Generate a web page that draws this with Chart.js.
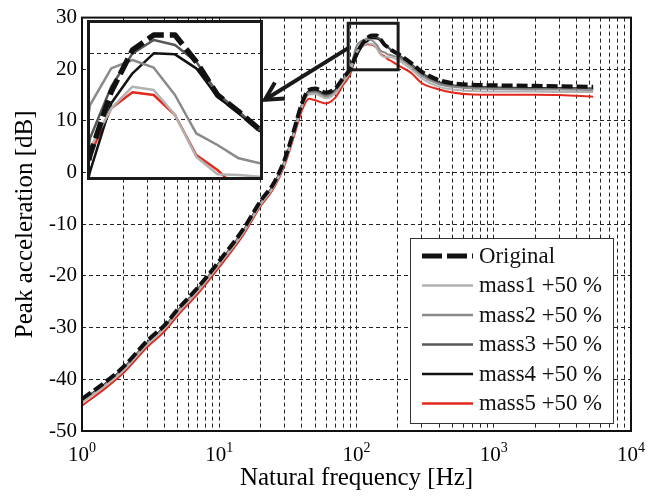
<!DOCTYPE html>
<html>
<head>
<meta charset="utf-8">
<script src="https://cdn.jsdelivr.net/npm/chart.js@4.4.1/dist/chart.umd.min.js"></script>
<style>
  html, body { margin: 0; padding: 0; background: #fff; }
  #wrap { position: relative; width: 660px; height: 500px; }
  #inset { position: absolute; left: 87px; top: 20px; width: 170px; height: 154px; border: 3px solid #1a1a1a; background: #fff; }
  #inset canvas { display: block; }
</style>
</head>
<body>
<div id="wrap">
  <canvas id="main" width="660" height="500"></canvas>
  <div id="inset"><canvas id="zoom" width="170" height="154"></canvas></div>
</div>
<script>
'use strict';
// frequency samples [Hz]
const freqs = [1, 1.5, 2, 3, 4, 5, 7, 10, 15, 20, 25, 30, 35, 40, 45, 50, 60, 70, 80, 90,
  100, 110, 120, 130, 140, 150, 160, 170, 180, 200, 250, 300, 400, 500, 700, 1000, 2000, 3000, 5300];

// peak acceleration [dB]
const original = [-43.8, -40.4, -37.6, -32.5, -29.5, -26.4, -22.2, -17.1, -10.9, -5.5,
  -2.0, 2.6, 8.2, 13.4, 16.0, 16.3, 15.5, 16.3, 18.3, 20.1,
  22.95, 24.85, 26.1, 26.55, 26.55, 25.75, 24.75, 24.25, 23.7, 23.0,
  21.2, 19.5, 17.9, 17.3, 17.0, 16.9, 16.8, 16.7, 16.6];
const mass1 = [-44.5, -41.1, -38.3, -33.2, -30.2, -27.1, -22.9, -17.8, -11.6, -6.2,
  -2.7, 1.9, 7.5, 12.7, 15.1, 15.2, 14.4, 15.3, 17.5, 19.6,
  23.15, 24.35, 25.0, 24.9, 24.15, 22.9, 22.37, 22.35, 22.3, 21.8,
  20.0, 18.2, 16.6, 16.1, 15.8, 15.7, 15.7, 15.6, 15.6];
const mass2 = [-44.3, -40.9, -38.1, -33.0, -30.0, -26.9, -22.7, -17.6, -11.4, -6.0,
  -2.5, 2.1, 7.7, 12.9, 15.4, 15.5, 14.7, 15.6, 17.9, 20.2,
  24.45, 25.55, 25.8, 25.57, 24.75, 23.6, 23.25, 22.85, 22.7, 22.3,
  20.5, 18.7, 17.1, 16.6, 16.3, 16.2, 16.1, 16.1, 16.0];
const mass3 = [-44.2, -40.8, -38.0, -32.9, -29.9, -26.8, -22.6, -17.5, -11.3, -5.9,
  -2.4, 2.2, 7.8, 13.0, 15.6, 15.8, 15.0, 15.8, 17.9, 19.8,
  23.45, 25.0, 26.0, 26.4, 26.25, 25.75, 24.8, 24.25, 23.7, 22.9,
  20.9, 19.1, 17.4, 16.8, 16.5, 16.4, 16.3, 16.3, 16.2];
const mass4 = [-44.1, -40.7, -37.9, -32.8, -29.8, -26.7, -22.5, -17.4, -11.2, -5.8,
  -2.3, 2.3, 7.9, 13.1, 15.8, 16.0, 15.2, 16.0, 18.0, 19.7,
  22.45, 24.5, 25.4, 26.0, 25.97, 25.55, 24.7, 24.2, 23.65, 22.8,
  21.0, 19.2, 17.5, 16.9, 16.6, 16.5, 16.4, 16.4, 16.3];
const mass5 = [-45.1, -41.6, -38.8, -33.7, -30.7, -27.6, -23.4, -18.3, -12.0, -6.5,
  -3.0, 1.5, 7.0, 12.0, 14.3, 14.0, 13.4, 14.5, 17.0, 19.0,
  22.95, 24.35, 24.83, 24.75, 24.15, 22.95, 22.5, 21.9, 21.6, 20.8,
  19.3, 17.3, 16.1, 15.5, 15.1, 15.05, 15.05, 15.0, 14.7];

const seriesNames = ['Original', 'mass1 +50 %', 'mass2 +50 %', 'mass3 +50 %', 'mass4 +50 %', 'mass5 +50 %'];
const seriesColors = ['#111111', '#b2b2b2', '#8a8a8a', '#585858', '#111111', '#e2291d'];

const yTicks = [-50, -40, -30, -20, -10, 0, 10, 20, 30];
const xDecades = [1, 10, 100, 1000, 10000];
const xExponents = ['0', '1', '2', '3', '4'];

// zoomed region (data coords) and inset limits
const zoomX = [87, 201];
const zoomY = [19.9, 28.9];
const insetX = [100, 180];
const insetY = [22.29, 26.91];
const insetGrid = [24, 26];
const arrowFrom = [87, 24.1];
const arrowTo = [21.5, 14.1];

const serif = "'Liberation Serif', 'Times New Roman', serif";
Chart.defaults.font.family = serif;
Chart.defaults.color = '#000';

function points(values) {
  return freqs.map((f, i) => ({x: f, y: values[i]}));
}

function makeDatasets(solidWidth, dashWidth, dash, smooth) {
  const all = [original, mass1, mass2, mass3, mass4, mass5];
  return all.map((vals, i) => ({
    label: seriesNames[i],
    data: points(vals),
    borderColor: seriesColors[i],
    borderWidth: i === 0 ? dashWidth : solidWidth,
    borderDash: i === 0 ? dash : [],
    borderJoinStyle: 'round',
    pointRadius: 0,
    fill: false,
    tension: 0,
    cubicInterpolationMode: smooth ? 'monotone' : 'default'
  }));
}

// minor + major grid for the log axis
const xGrid = [];
for (let d = 0; d < xDecades.length - 1; d++) {
  for (let m = 1; m < 10; m++) xGrid.push(m * xDecades[d]);
}
xGrid.push(xDecades[xDecades.length - 1]);

const framePlugin = {
  id: 'frame',
  afterDraw(chart) {
    const ctx = chart.ctx;
    const a = chart.chartArea;
    const xs = chart.scales.x;
    const ys = chart.scales.y;
    ctx.save();

    // axes box
    ctx.strokeStyle = '#111';
    ctx.lineWidth = 2;
    ctx.strokeRect(a.left, a.top, a.right - a.left, a.bottom - a.top);

    // x tick labels 10^n
    ctx.fillStyle = '#000';
    ctx.textBaseline = 'alphabetic';
    ctx.textAlign = 'left';
    for (let i = 0; i < xDecades.length; i++) {
      const x = xs.getPixelForValue(xDecades[i]);
      ctx.font = '21px ' + serif;
      const w1 = ctx.measureText('10').width;
      ctx.font = '14px ' + serif;
      const w2 = ctx.measureText(xExponents[i]).width;
      const start = x - (w1 + w2) / 2;
      ctx.font = '21px ' + serif;
      ctx.fillText('10', start, 461);
      ctx.font = '14px ' + serif;
      ctx.fillText(xExponents[i], start + w1, 452);
    }

    // zoom box
    const bx0 = xs.getPixelForValue(zoomX[0]);
    const bx1 = xs.getPixelForValue(zoomX[1]);
    const by0 = ys.getPixelForValue(zoomY[1]);
    const by1 = ys.getPixelForValue(zoomY[0]);
    ctx.lineWidth = 3;
    ctx.strokeStyle = '#1a1a1a';
    ctx.strokeRect(bx0, by0, bx1 - bx0, by1 - by0);

    // arrow to the inset
    const ax0 = xs.getPixelForValue(arrowFrom[0]);
    const ay0 = ys.getPixelForValue(arrowFrom[1]);
    const ax1 = xs.getPixelForValue(arrowTo[0]);
    const ay1 = ys.getPixelForValue(arrowTo[1]);
    ctx.lineWidth = 4;
    ctx.lineCap = 'butt';
    ctx.beginPath();
    ctx.moveTo(ax0, ay0);
    ctx.lineTo(ax1, ay1);
    ctx.stroke();
    const ang = Math.atan2(ay0 - ay1, ax0 - ax1);
    const len = 20;
    const spread = 28 * Math.PI / 180;
    ctx.lineJoin = 'miter';
    ctx.beginPath();
    ctx.moveTo(ax1 + len * Math.cos(ang - spread), ay1 + len * Math.sin(ang - spread));
    ctx.lineTo(ax1, ay1);
    ctx.lineTo(ax1 + len * Math.cos(ang + spread), ay1 + len * Math.sin(ang + spread));
    ctx.stroke();

    // legend
    const lx = 410.5, ly = 238.5, lw = 203, lh = 185;
    ctx.fillStyle = '#fff';
    ctx.fillRect(lx, ly, lw, lh);
    ctx.lineWidth = 1;
    ctx.strokeStyle = '#333';
    ctx.strokeRect(lx, ly, lw, lh);
    ctx.font = '22.8px ' + serif;
    ctx.textBaseline = 'middle';
    chart.data.datasets.forEach((ds, i) => {
      const y = 256 + i * 29.5;
      ctx.strokeStyle = ds.borderColor;
      ctx.lineWidth = i === 0 ? 5 : 2.5;
      ctx.setLineDash(i === 0 ? [20, 5] : []);
      ctx.beginPath();
      ctx.moveTo(422, y);
      ctx.lineTo(473, y);
      ctx.stroke();
      ctx.setLineDash([]);
      ctx.fillStyle = '#111';
      ctx.fillText(ds.label, 479, y + 1);
    });
    ctx.restore();
  }
};

new Chart(document.getElementById('main'), {
  type: 'line',
  data: {datasets: makeDatasets(2, 4, [11, 4], true)},
  plugins: [framePlugin],
  options: {
    responsive: false,
    animation: false,
    layout: {padding: {left: 0, top: 16, right: 29, bottom: 0}},
    plugins: {legend: {display: false}, tooltip: {enabled: false}},
    scales: {
      x: {
        type: 'logarithmic',
        min: 1,
        max: 10000,
        ticks: {display: false},
        grid: {color: '#222', lineWidth: 1, drawTicks: false},
        border: {display: false, dash: [4, 3]},
        afterBuildTicks: (s) => { s.ticks = xGrid.map(v => ({value: v})); },
        afterFit: (s) => { s.height = 69; },
        title: {display: true, text: 'Natural frequency [Hz]', font: {size: 25}, padding: {top: 0, bottom: 7}}
      },
      y: {
        min: -50,
        max: 30,
        ticks: {font: {size: 21}, padding: 5, color: '#000'},
        grid: {color: '#222', lineWidth: 1, drawTicks: false},
        border: {display: false, dash: [4, 3]},
        afterBuildTicks: (s) => { s.ticks = yTicks.map(v => ({value: v})); },
        afterFit: (s) => { s.width = 82; },
        title: {display: true, text: 'Peak acceleration [dB]', font: {size: 25}, padding: {top: 10, bottom: 0}}
      }
    }
  }
});

new Chart(document.getElementById('zoom'), {
  type: 'line',
  data: {datasets: makeDatasets(2.5, 5.5, [17, 6], false)},
  options: {
    responsive: false,
    animation: false,
    layout: {padding: 0},
    plugins: {legend: {display: false}, tooltip: {enabled: false}},
    scales: {
      x: {type: 'linear', min: insetX[0], max: insetX[1], display: false},
      y: {
        min: insetY[0],
        max: insetY[1],
        ticks: {display: false},
        grid: {color: '#222', lineWidth: 1, drawTicks: false},
        border: {display: false, dash: [4, 3]},
        afterBuildTicks: (s) => { s.ticks = insetGrid.map(v => ({value: v})); },
        afterFit: (s) => { s.width = 0; }
      }
    }
  }
});
</script>
</body>
</html>
